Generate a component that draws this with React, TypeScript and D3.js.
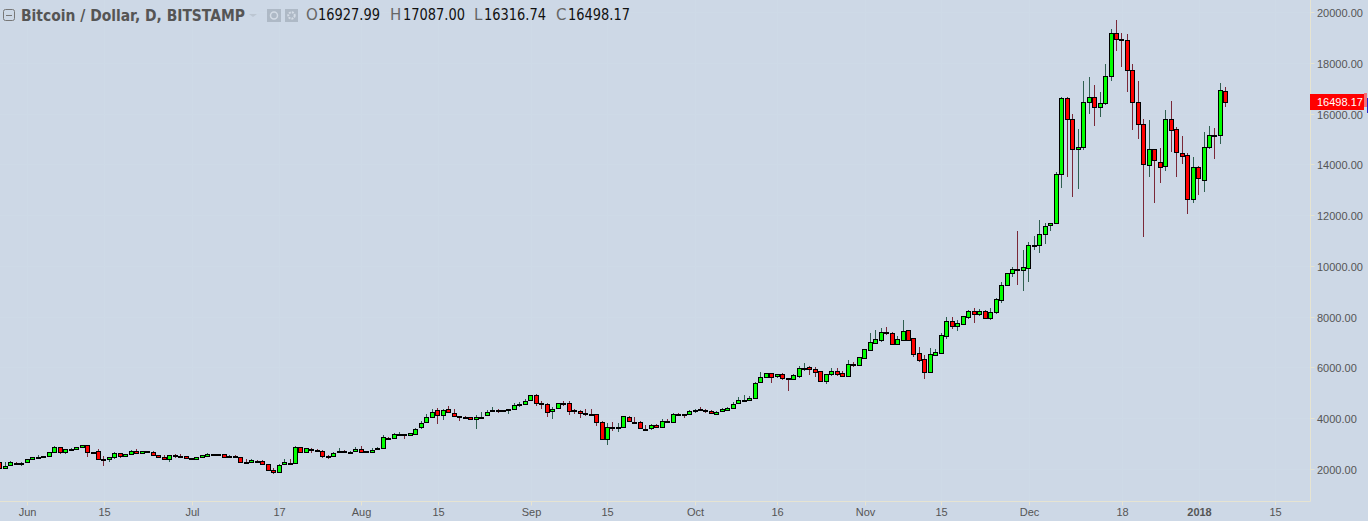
import React from 'react';
import * as d3 from 'd3';

// daily candles, first one is 27 May 2017
const opens = [
  2323, 2086, 2205, 2310, 2257, 2323, 2441, 2519, 2546, 2559,
  2729, 2913, 2729, 2834, 2834, 2913, 2992, 2716, 2755, 2467,
  2441, 2519, 2677, 2559, 2637, 2755, 2677, 2755, 2716, 2598,
  2519, 2441, 2598, 2585, 2559, 2480, 2441, 2519, 2559, 2637,
  2637, 2637, 2519, 2585, 2519, 2349, 2336, 2388, 2362, 2244,
  2008, 1929, 2244, 2310, 2283, 2913, 2716, 2860, 2808, 2782,
  2585, 2559, 2716, 2782, 2729, 2782, 2860, 2742, 2716, 2860,
  2874, 3293, 3267, 3438, 3424, 3385, 3424, 3700, 3897, 4094,
  4369, 4172, 4408, 4277, 4146, 4120, 4094, 4015, 4107, 4172,
  4356, 4369, 4382, 4395, 4408, 4592, 4605, 4776, 4959, 4645,
  4631, 4330, 4448, 4645, 4645, 4369, 4356, 4251, 4225, 4212,
  3897, 3254, 3726, 3700, 3700, 4120, 3923, 3897, 3634, 3661,
  3805, 3700, 3936, 3897, 4238, 4225, 4212, 4382, 4408, 4395,
  4330, 4238, 4330, 4369, 4448, 4645, 4776, 4763, 4841, 5471,
  5668, 5825, 5708, 5787, 5630, 5590, 5735, 6023, 6063, 5984,
  5905, 5538, 5787, 5905, 5826, 5735, 6181, 6141, 6443, 6758,
  7033, 7152, 7440, 7401, 6994, 7152, 7519, 7204, 6614, 6377,
  5892, 6561, 6640, 7309, 7873, 7703, 7781, 8057, 8267, 8149,
  8267, 8017, 8227, 8726, 9316, 9762, 9920, 9880, 9959, 10864,
  10891, 11300, 11654, 11733, 13662, 16653, 15827, 14646, 14724, 16496,
  16693, 16299, 16456, 17519, 19251, 19015, 18975, 17755, 16496, 15630,
  14016, 14646, 14134, 13977, 15827, 15433, 14488, 14410, 12678, 13937,
  13425, 14724, 15197, 15197, 16927.99,
];
const highs = [
  2340, 2349, 2375, 2330, 2330, 2455, 2530, 2611, 2585, 2730,
  2965, 2925, 2850, 2900, 2940, 3005, 3000, 2730, 2834, 2572,
  2540, 2716, 2690, 2650, 2795, 2834, 2770, 2765, 2769, 2610,
  2598, 2610, 2637, 2637, 2575, 2495, 2535, 2610, 2677, 2650,
  2650, 2650, 2600, 2600, 2535, 2441, 2441, 2428, 2414, 2255,
  2086, 2245, 2441, 2441, 2965, 2925, 2890, 2900, 2834, 2795,
  2600, 2715, 2887, 2795, 2755, 2913, 2965, 2770, 2874, 2913,
  3398, 3310, 3490, 3517, 3440, 3480, 3660, 3962, 4225, 4408,
  4448, 4410, 4540, 4421, 4165, 4130, 4110, 4199, 4303, 4382,
  4487, 4421, 4395, 4420, 4671, 4697, 4815, 4975, 5012, 4736,
  4645, 4513, 4660, 4750, 4736, 4435, 4370, 4408, 4421, 4225,
  3962, 3857, 3897, 3857, 4145, 4130, 4094, 3949, 3792, 3820,
  3815, 4028, 4015, 4277, 4250, 4240, 4370, 4410, 4487, 4410,
  4382, 4330, 4461, 4513, 4697, 4881, 4973, 4933, 5470, 5865,
  5850, 5850, 5810, 5850, 5660, 5790, 6115, 6220, 6115, 6076,
  5920, 5810, 6023, 6023, 5918, 6351, 6272, 6480, 6790, 7414,
  7532, 7611, 7650, 7453, 7296, 7926, 7530, 7220, 6863, 6535,
  6823, 6771, 7401, 8031, 8031, 7926, 8090, 8319, 8385, 8346,
  8319, 8385, 8778, 9421, 9790, 9999, 11429, 10681, 10983, 11232,
  11865, 11730, 11733, 13740, 16692, 16692, 16037, 15446, 17335, 17480,
  17178, 16890, 18004, 19408, 19736, 19251, 19212, 18004, 17335, 15840,
  15800, 14660, 14698, 16194, 16548, 15538, 15171, 14488, 14357, 13990,
  15328, 15564, 15486, 17257, 17087,
];
const lows = [
  2070, 2060, 2190, 2240, 2191, 2310, 2430, 2505, 2519, 2550,
  2720, 2664, 2664, 2820, 2820, 2900, 2546, 2660, 2450, 2191,
  2349, 2467, 2493, 2545, 2625, 2660, 2665, 2730, 2585, 2505,
  2430, 2349, 2506, 2532, 2465, 2450, 2430, 2505, 2545, 2625,
  2585, 2505, 2505, 2505, 2310, 2305, 2320, 2360, 2230, 1995,
  1876, 1915, 2230, 2285, 2270, 2700, 2700, 2703, 2780, 2493,
  2467, 2545, 2700, 2715, 2637, 2770, 2677, 2730, 2705, 2850,
  2860, 3215, 3250, 3385, 3241, 3370, 3410, 3634, 3857, 4054,
  3844, 3989, 4275, 4130, 3962, 4015, 4000, 3634, 4095, 4160,
  4345, 4277, 4355, 4238, 4395, 4513, 4590, 4760, 4540, 4435,
  4120, 4041, 4435, 4540, 4185, 4238, 4080, 4159, 4200, 3766,
  3240, 3018, 3569, 3516, 3690, 3925, 3900, 3650, 3569, 3595,
  3690, 3690, 3910, 3885, 4215, 4080, 4200, 4264, 4385, 4251,
  4240, 4212, 4320, 4355, 4435, 4630, 4760, 4750, 4830, 5460,
  5640, 5458, 5660, 5564, 5131, 5560, 5656, 5931, 5774, 5695,
  5498, 5420, 5735, 5735, 5682, 5720, 6076, 6120, 6404, 6740,
  6981, 7073, 7335, 6980, 6980, 7130, 7112, 6482, 6286, 5616,
  5880, 6522, 6625, 7191, 7571, 7493, 7742, 7978, 7821, 8083,
  7995, 7926, 8175, 8608, 9300, 9631, 9303, 9067, 9434, 10681,
  10563, 10920, 11445, 11700, 13137, 13570, 12783, 13085, 14640, 16036,
  15577, 15932, 16404, 17349, 18516, 17900, 16916, 15407, 15053, 11208,
  13570, 12547, 13307, 13793, 14554, 13570, 14082, 12114, 12547, 12861,
  12980, 14646, 14278, 14856, 16316.74,
];
const closes = [
  2086, 2191, 2323, 2257, 2310, 2441, 2519, 2546, 2559, 2716,
  2913, 2716, 2834, 2847, 2913, 2992, 2716, 2677, 2467, 2441,
  2519, 2677, 2559, 2637, 2755, 2677, 2755, 2742, 2598, 2519,
  2441, 2598, 2585, 2559, 2480, 2465, 2519, 2598, 2637, 2637,
  2637, 2519, 2585, 2519, 2349, 2323, 2401, 2375, 2244, 2008,
  1929, 2231, 2323, 2296, 2913, 2716, 2874, 2808, 2795, 2585,
  2572, 2703, 2782, 2729, 2742, 2860, 2742, 2755, 2821, 2874,
  3306, 3267, 3425, 3450, 3398, 3464, 3647, 3884, 4094, 4317,
  4172, 4395, 4290, 4146, 4133, 4107, 4015, 4120, 4120, 4317,
  4369, 4360, 4369, 4408, 4592, 4605, 4750, 4959, 4645, 4632,
  4303, 4435, 4645, 4632, 4330, 4343, 4251, 4238, 4212, 3897,
  3254, 3726, 3713, 3700, 4133, 3936, 3910, 3661, 3620, 3805,
  3700, 3936, 3923, 4212, 4225, 4212, 4356, 4395, 4395, 4330,
  4251, 4317, 4408, 4448, 4631, 4789, 4776, 4841, 5458, 5668,
  5825, 5694, 5786, 5630, 5620, 5748, 6023, 6050, 5984, 5892,
  5538, 5787, 5905, 5787, 5735, 6181, 6154, 6456, 6771, 7047,
  7165, 7440, 7414, 6994, 7165, 7480, 7152, 6600, 6364, 5892,
  6574, 6653, 7322, 7873, 7703, 7794, 8070, 8267, 8149, 8267,
  8017, 8227, 8739, 9290, 9762, 9920, 9894, 9999, 10864, 10891,
  11300, 11641, 11733, 13662, 16653, 15827, 14646, 14724, 16496, 16693,
  16299, 16456, 17519, 19251, 19015, 18990, 17755, 16496, 15630, 14055,
  14646, 14213, 13937, 15827, 15394, 14528, 14370, 12678, 13937, 13504,
  14724, 15197, 15180, 16968, 16498.17,
];

const priceTicks = [2000, 4000, 6000, 8000, 10000, 12000, 14000, 16000, 18000, 20000];
const timeLabels = ['Jun', '15', 'Jul', '17', 'Aug', '15', 'Sep', '15', 'Oct', '16', 'Nov', '15', 'Dec', '18', '2018', '15'];
const timeTickDays = [5, 19, 35, 51, 66, 80, 97, 111, 127, 142, 158, 172, 188, 205, 219, 233];
const legendItems = [
  { k: 'O', v: '16927.99', kx: 306, vx: 318 },
  { k: 'H', v: '17087.00', kx: 390, vx: 403 },
  { k: 'L', v: '16316.74', kx: 474, vx: 484 },
  { k: 'C', v: '16498.17', kx: 556, vx: 568 },
];

const WIDTH = 1368;
const HEIGHT = 521;
const AXIS_X = 1310.5;
const AXIS_Y = 501.5;
const BG = '#cdd8e6';
const GRID = '#cedae7';
const AXIS_COLOR = '#e6e4d2';
const LABEL_COLOR = '#555';
const AXIS_FONT = "'Liberation Sans', Arial, sans-serif";

const x = d3.scaleLinear().domain([0, 233]).range([-0.04, 1275.2]);
const y = d3.scaleLinear().domain([2000, 20000]).range([470.5, 13.5]);

// axis ticks sit about a pixel above the candle scale in the picture
const tickY = (p: number) => Math.floor(y(p)) - 0.5;

const App: React.FC = () => {
  const lastClose = closes[closes.length - 1];

  return (
    <svg
      width={WIDTH}
      height={HEIGHT}
      style={{ position: 'absolute', left: 0, top: 0, display: 'block', background: BG }}
    >
      {/* faint grid */}
      {timeTickDays.map((d) => (
        <line key={d} x1={Math.round(x(d)) + 0.5} x2={Math.round(x(d)) + 0.5} y1={0} y2={AXIS_Y} stroke={GRID} />
      ))}
      {priceTicks.map((p) => (
        <line key={p} x1={0} x2={AXIS_X} y1={tickY(p)} y2={tickY(p)} stroke={GRID} />
      ))}

      {/* candles */}
      {opens.map((o, i) => {
        const up = closes[i] >= o;
        const px = Math.floor(x(i)) + 0.5;
        const top = Math.round(y(Math.max(o, closes[i])));
        const bottom = Math.round(y(Math.min(o, closes[i])));
        return (
          <g key={i}>
            <line
              x1={px}
              x2={px}
              y1={Math.round(y(highs[i]))}
              y2={Math.round(y(lows[i]))}
              stroke={up ? '#2f5f50' : '#7a2838'}
            />
            <rect
              x={px - 2}
              y={top + 0.5}
              width={4}
              height={Math.max(bottom - top, 1)}
              fill={up ? '#00ff00' : '#ff0000'}
              stroke="#000"
              shapeRendering="crispEdges"
            />
          </g>
        );
      })}

      {/* price axis */}
      <line x1={AXIS_X} x2={AXIS_X} y1={0} y2={AXIS_Y} stroke={AXIS_COLOR} />
      {priceTicks.map((p) => (
        <g key={p} transform={`translate(0,${tickY(p)})`}>
          <line x1={AXIS_X} x2={AXIS_X + 4} y1={0} y2={0} stroke={AXIS_COLOR} />
          <text x={1317} y={4.5} fontFamily={AXIS_FONT} fontSize={11} fill={LABEL_COLOR}>
            {p.toFixed(2)}
          </text>
        </g>
      ))}

      {/* time axis */}
      <line x1={0} x2={AXIS_X} y1={AXIS_Y} y2={AXIS_Y} stroke={AXIS_COLOR} />
      {timeTickDays.map((d, i) => (
        <g
          key={d}
          transform={`translate(${Math.round(x(d)) + 0.5},0)`}
          textAnchor="middle"
          fontFamily={AXIS_FONT}
          fontSize={11}
          fontWeight={timeLabels[i] === '2018' ? 'bold' : 'normal'}
          fill={LABEL_COLOR}
        >
          <line x1={0} x2={0} y1={AXIS_Y} y2={AXIS_Y + 4} stroke={AXIS_COLOR} />
          <text y={515.5}>{timeLabels[i]}</text>
        </g>
      ))}

      {/* last price tag */}
      <rect x={1364} y={93} width={3} height={14} fill="#f0707a" />
      <rect x={1367} y={98} width={1} height={15} fill="#2222cc" />
      <rect x={1310} y={94} width={54} height={16} fill="#ff0000" />
      <text x={1317} y={106} fontFamily={AXIS_FONT} fontSize={11} fill="#fff">
        {lastClose.toFixed(2)}
      </text>

      {/* legend */}
      <rect x={3.5} y={9.5} width={11} height={11} rx={2} fill="none" stroke="#777" />
      <line x1={6} x2={12} y1={15.5} y2={15.5} stroke="#777" />
      <text
        x={21}
        y={20.5}
        fontFamily="'DejaVu Sans', sans-serif"
        fontSize={16}
        fontWeight={600}
        fill="#555"
        textLength={224}
        lengthAdjust="spacingAndGlyphs"
      >
        Bitcoin / Dollar, D, BITSTAMP
      </text>
      <path d={d3.line()([[249, 14], [257, 14], [253, 17]]) + 'Z'} fill="#bcc6d2" />
      <rect x={267} y={9} width={14} height={13} fill="#aeb9c6" />
      <circle cx={274} cy={15.5} r={3.5} fill="none" stroke="#d4dce6" strokeWidth={1.5} />
      <rect x={285} y={9} width={13} height={13} fill="#aeb9c6" />
      <circle cx={291.5} cy={15.5} r={3.2} fill="none" stroke="#d4dce6" strokeWidth={2} strokeDasharray="2 1" />
      {legendItems.map((item) => (
        <g key={item.k} fontFamily="'DejaVu Sans', sans-serif" fontSize={15}>
          <text x={item.kx} y={20} fill="#666">{item.k}</text>
          <text x={item.vx} y={20} fill="#111" textLength={62} lengthAdjust="spacingAndGlyphs">{item.v}</text>
        </g>
      ))}
    </svg>
  );
};

export default App;
